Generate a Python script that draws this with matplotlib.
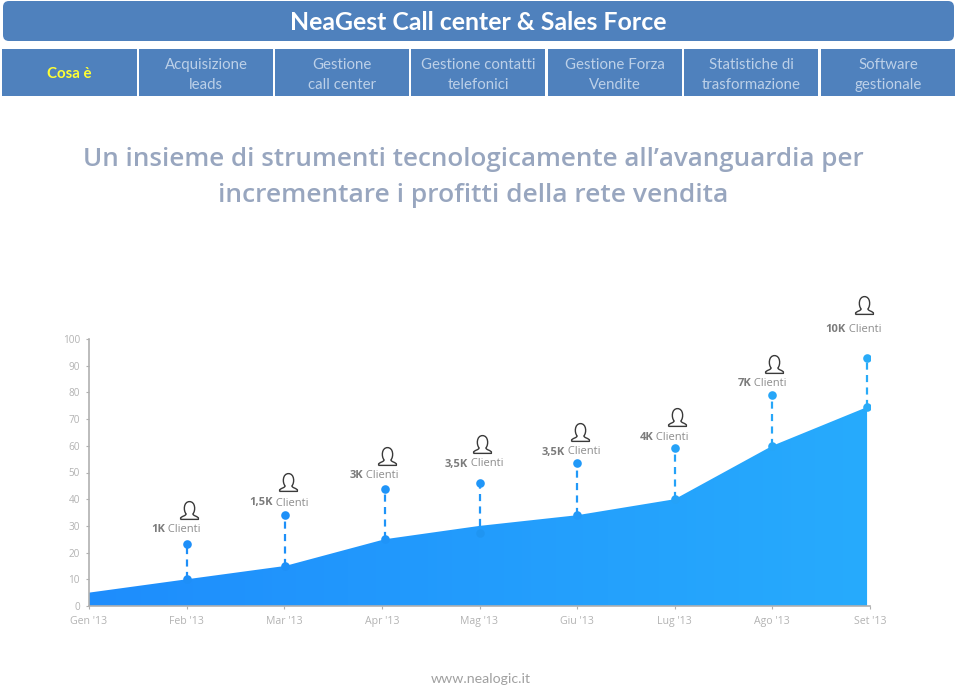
# -*- coding: utf-8 -*-
import numpy as np
import matplotlib.pyplot as plt
from matplotlib.patches import FancyBboxPatch, Rectangle
from matplotlib.path import Path
from matplotlib.colors import LinearSegmentedColormap

months = ["Gen '13", "Feb '13", "Mar '13", "Apr '13", "Mag '13", "Giu '13", "Lug '13", "Ago '13", "Set '13"]
area_x = [0, 1, 2.01, 3.03, 4, 5, 6, 7, 7.97]
area_y = [5, 10, 15, 25, 30, 34, 40, 60, 74.5]

pin_x = [1, 2.01, 3.03, 4, 5, 6, 7, 7.97]
pin_low = [10, 15, 25, 27.5, 34, 40, 60, 74.5]
pin_high = [23.2, 34, 44, 46, 53.5, 59, 79, 93]
pin_bold = ["1K", "1,5K", "3K", "3,5K", "3,5K", "4K", "7K", "10K"]
pin_colors = ['#1e8ff8', '#1e90f8', '#1f94f8', '#2096f8', '#2199f8', '#25a2f8', '#27a6f8', '#29abf8']

tabs = ["Cosa è", "Acquisizione\nleads", "Gestione\ncall center", "Gestione contatti\ntelefonici",
        "Gestione Forza\nVendite", "Statistiche di\ntrasformazione", "Software\ngestionale"]
tab_left = [2, 139, 275, 411, 548, 684, 821]
tab_right = [137, 273, 409, 545, 682, 818, 955]

# pixel positions of the captions above each pin
label_x = [165, 273, 363, 468, 565, 653, 751, 846]
label_y = [530, 503, 476, 464, 452, 437, 384, 329]
icon_x = [189, 288, 387, 482, 580, 677, 774, 864]
icon_y = [510, 482, 456, 444, 432, 417, 364, 305]

fig = plt.figure(figsize=(9.6, 6.89), dpi=100)
ax = fig.add_axes([89/960, 83/689, 781/960, 267/689])

# area with a left to right gradient
cmap = LinearSegmentedColormap.from_list('blues', ['#1e8dfc', '#27abfc'])
poly = ax.fill_between(area_x, area_y, color='none')
im = ax.imshow(np.linspace(0, 1, 256).reshape(1, -1), cmap=cmap, extent=(0, 8, 0, 100), aspect='auto', zorder=2)
im.set_clip_path(poly.get_paths()[0], transform=ax.transData)
ax.set_xlim(0, 8)
ax.set_ylim(0, 100)

for x, lo, hi, c in zip(pin_x, pin_low, pin_high, pin_colors):
    inside = lo == 27.5  # this one sits under the area edge and is barely visible
    ax.plot([x, x], [lo + 2.5 if inside else lo, hi], color=c, linestyle=(0, (3.2, 2.4)), linewidth=1.6, zorder=3)
    ax.plot(x, hi, 'o', color=c, markersize=6.2, markeredgewidth=0, zorder=4)
    ax.plot(x, lo, 'o', color='#1c8ae0' if inside else c, alpha=0.35 if inside else 1,
            markersize=6.2, markeredgewidth=0, zorder=4)

for name in ['top', 'right']:
    ax.spines[name].set_visible(False)
for name in ['left', 'bottom']:
    ax.spines[name].set_color('#b0b0b0')
    ax.spines[name].set_linewidth(1.2)
ax.set_yticks(range(0, 101, 10))
ax.set_xticks(range(9))
ax.set_xticklabels(months, family='Open Sans', fontsize=7.6, color='#b3b3b3')
ax.tick_params(axis='x', length=2, color='#b0b0b0', pad=5)
ax.tick_params(axis='y', length=2.5, color='#b0b0b0', labelsize=7.2, labelcolor='#b3b3b3', pad=4)
for t in ax.get_yticklabels():
    t.set_family('Open Sans')

# everything else is placed in pixel coordinates
ov = fig.add_axes([0, 0, 1, 1], facecolor='none')
ov.set_xlim(0, 960)
ov.set_ylim(689, 0)
ov.axis('off')

ov.add_patch(FancyBboxPatch((9, 7), 939, 28, boxstyle='round,pad=6', facecolor='#4f81bd', edgecolor='none'))
ov.text(478.5, 22, "NeaGest Call center & Sales Force", family='Lato', weight='bold', fontsize=17.9,
        color='white', ha='center', va='center')
for i, (label, l, r) in enumerate(zip(tabs, tab_left, tab_right)):
    ov.add_patch(Rectangle((l, 49), r - l, 47, facecolor='#4f81bd', edgecolor='none'))
    if i == 0:
        ov.text((l + r) / 2, 74, label, family='Lato', weight='bold', fontsize=10.8, color='#ffff33',
                ha='center', va='center')
    else:
        ov.text((l + r) / 2, 75, label, family='Lato', fontsize=10.8, color='#bcd0e8',
                ha='center', va='center', linespacing=1.5)

ov.text(473, 160, "Un insieme di strumenti tecnologicamente all’avanguardia per", family='Open Sans',
        weight='semibold', fontsize=18.75, color='#98a6bf', ha='center', va='center')
ov.text(473, 196, "incrementare i profitti della rete vendita", family='Open Sans',
        weight='semibold', fontsize=19, color='#98a6bf', ha='center', va='center')

# outline of the person icon: flat base, shoulders, neck and oval head
verts = [(-1, -1), (1, -1), (1, -0.82),
         (0.75, -0.6), (0.42, -0.6), (0.38, -0.38),
         (0.7, -0.05), (0.68, 1.0), (0, 1.0),
         (-0.68, 1.0), (-0.7, -0.05), (-0.38, -0.38),
         (-0.42, -0.6), (-0.75, -0.6), (-1, -0.82),
         (-1, -1)]
codes = [Path.MOVETO, Path.LINETO, Path.LINETO,
         Path.CURVE4, Path.CURVE4, Path.CURVE4,
         Path.CURVE4, Path.CURVE4, Path.CURVE4,
         Path.CURVE4, Path.CURVE4, Path.CURVE4,
         Path.CURVE4, Path.CURVE4, Path.CURVE4,
         Path.LINETO]
person = Path(verts, codes)

for bold, lx, ly, ix, iy in zip(pin_bold, label_x, label_y, icon_x, icon_y):
    t = ov.text(lx, ly, bold, family='Open Sans', weight='bold', fontsize=8, color='#7b7b7b', ha='right', va='center')
    ov.annotate(" Clienti", xy=(1, 0), xycoords=t, family='Open Sans', fontsize=8, color='#8c8c8c', va='bottom')
    ov.plot(ix, iy, marker=person, markersize=12.8, markerfacecolor='none', markeredgecolor='#3a3a3a', markeredgewidth=1.0)

ov.text(480.5, 679, "www.nealogic.it", family='Lato', fontsize=10.2, color='#a0a0a0', ha='center', va='center')

fig.savefig('out.png', dpi=100)
